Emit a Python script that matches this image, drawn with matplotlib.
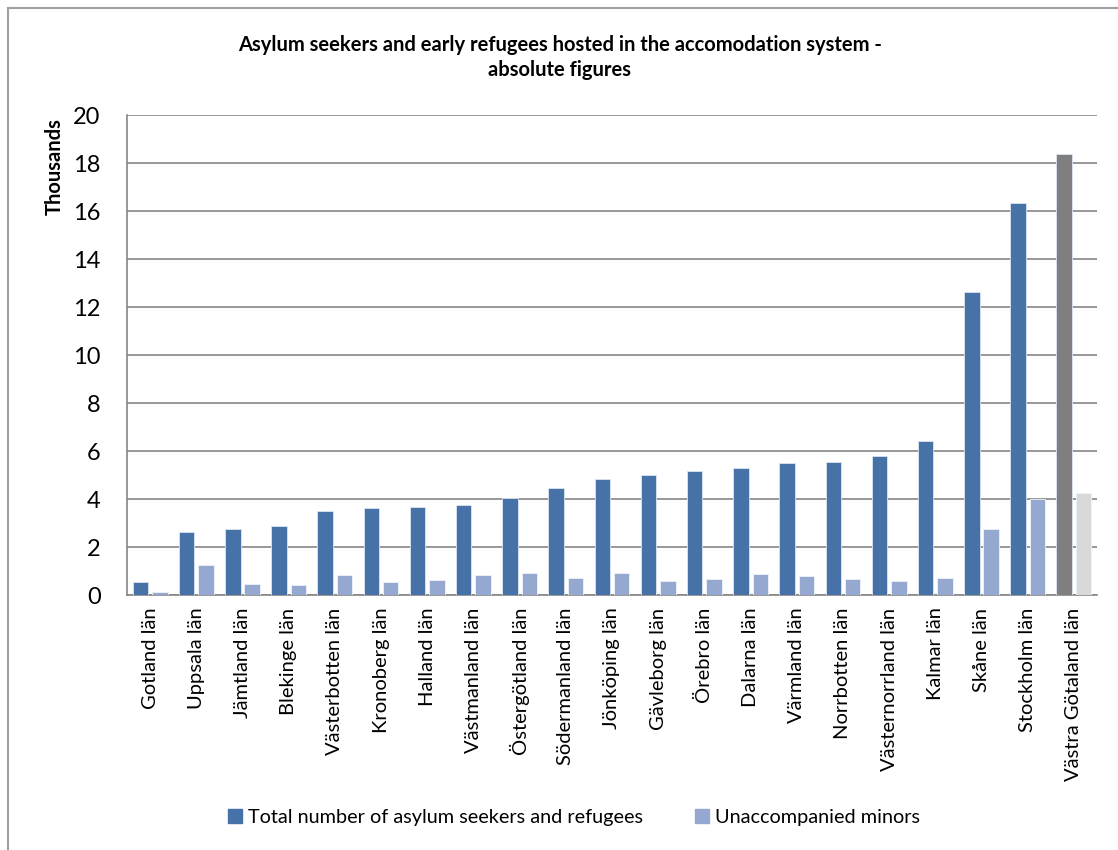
import matplotlib
matplotlib.use('Agg')
import matplotlib.pyplot as plt
from matplotlib.patches import Patch
from matplotlib.lines import Line2D
import numpy as np

plt.rcParams['font.family'] = ['Lato', 'DejaVu Sans']

counties = [
    "Gotland län", "Uppsala län", "Jämtland län", "Blekinge län",
    "Västerbotten län", "Kronoberg län", "Halland län", "Västmanland län",
    "Östergötland län", "Södermanland län", "Jönköping län", "Gävleborg län",
    "Örebro län", "Dalarna län", "Värmland län", "Norrbotten län",
    "Västernorrland län", "Kalmar län", "Skåne län", "Stockholm län",
    "Västra Götaland län",
]
# thousands
total = [0.53, 2.64, 2.75, 2.87, 3.51, 3.63, 3.67, 3.74, 4.04, 4.44,
         4.85, 5.01, 5.15, 5.29, 5.49, 5.56, 5.80, 6.42, 12.61, 16.33, 18.37]
minors = [0.13, 1.25, 0.44, 0.40, 0.82, 0.53, 0.64, 0.83, 0.92, 0.72,
          0.93, 0.57, 0.68, 0.86, 0.79, 0.68, 0.57, 0.71, 2.75, 3.99, 4.26]
yticks = [0, 2, 4, 6, 8, 10, 12, 14, 16, 18, 20]

BLUE = "#4672a8"
LIGHT = "#95a9d0"
GREY = "#7f7f7f"
LGREY = "#d9d9d9"

fig = plt.figure(figsize=(11.18, 8.5), dpi=100)
ax = fig.add_axes([127 / 1118, 1 - 595 / 850, 970 / 1118, 480 / 850])

x = np.arange(len(counties))
c_total = [BLUE] * (len(counties) - 1) + [GREY]
c_minor = [LIGHT] * (len(counties) - 1) + [LGREY]
ax.bar(x - 0.21, total, width=0.335, color=c_total, edgecolor="#dce6f2",
       linewidth=0.6, zorder=3)
ax.bar(x + 0.21, minors, width=0.335, color=c_minor, edgecolor="#eef2f8",
       linewidth=0.6, zorder=3)

ax.set_xlim(-0.5, len(counties) - 0.5)
ax.set_ylim(0, 20)
ax.set_yticks(yticks)
ax.set_yticklabels([str(v) for v in yticks], fontsize=17)
ax.set_xticks(x)
ax.set_xticklabels(counties, rotation=90, fontsize=14.5)
ax.tick_params(length=0)
ax.tick_params(axis='y', pad=19)
ax.tick_params(axis='x', pad=9)
ax.grid(axis='y', color="#868686", linewidth=1.2, zorder=0)
for s in ["top", "right"]:
    ax.spines[s].set_visible(False)
for s in ["left", "bottom"]:
    ax.spines[s].set_color("#868686")
    ax.spines[s].set_linewidth(1.2)

fig.text(560 / 1118, 1 - 45 / 850,
         "Asylum seekers and early refugees hosted in the accomodation system -",
         ha="center", va="center", fontsize=14.5, fontweight="bold")
fig.text(560 / 1118, 1 - 70 / 850, "absolute figures",
         ha="center", va="center", fontsize=14.5, fontweight="bold")
fig.text(55 / 1118, 1 - 167 / 850, "Thousands", rotation=90,
         ha="center", va="center", fontsize=14.5, fontweight="bold")

handles = [Patch(color=BLUE), Patch(color=LIGHT)]
fig.legend(handles, ["Total number of asylum seekers and refugees",
                     "Unaccompanied minors"],
           loc="center", bbox_to_anchor=(574 / 1118, 1 - 817 / 850), ncol=2,
           frameon=False, fontsize=14.3, handlelength=0.7, handleheight=0.7,
           handletextpad=0.3, columnspacing=2.6)

# chart border (top and left visible)
fig.add_artist(Line2D([8 / 1118, 8 / 1118], [0, 1 - 8 / 850],
                      transform=fig.transFigure, color="#a0a0a0", linewidth=1.5))
fig.add_artist(Line2D([8 / 1118, 1], [1 - 8 / 850, 1 - 8 / 850],
                      transform=fig.transFigure, color="#a0a0a0", linewidth=1.5))

fig.savefig("out.png", dpi=100)
